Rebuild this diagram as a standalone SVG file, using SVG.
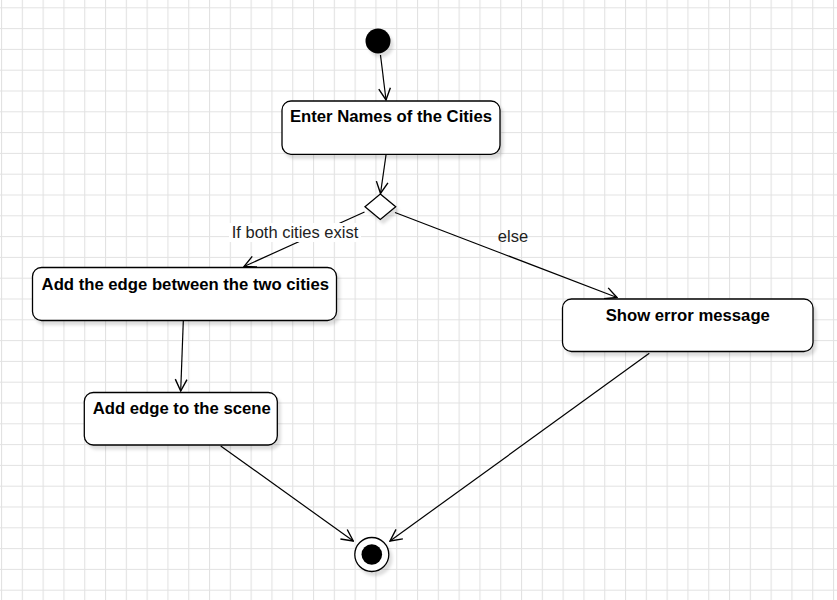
<svg xmlns="http://www.w3.org/2000/svg" width="837" height="600" viewBox="0 0 837 600">
<defs>
<pattern id="grid" x="1" y="7.3" width="20.8" height="20.8" patternUnits="userSpaceOnUse">
<path d="M0.5,0 V20.8 M0,0.5 H20.8" stroke="#e2e2e2" stroke-width="1.2" fill="none"/>
</pattern>
<filter id="sh" x="-20%" y="-20%" width="150%" height="160%">
<feDropShadow dx="3" dy="4" stdDeviation="1.8" flood-color="#000" flood-opacity="0.13"/>
</filter>
<marker id="arr" markerUnits="userSpaceOnUse" markerWidth="14" markerHeight="14" viewBox="0 0 12 12" refX="11" refY="6" orient="auto">
<path d="M1,1 L11,6 L1,11" fill="none" stroke="#000" stroke-width="1.2"/>
</marker>
</defs>
<style>
.box{fill:#fff;stroke:#000;stroke-width:1.3;filter:url(#sh)}
.t{font-family:"Liberation Sans",Arial,sans-serif;font-size:16.7px;font-weight:bold;fill:#000;text-anchor:middle}
.lbl{font-family:"Liberation Sans",Arial,sans-serif;font-size:16.5px;fill:#222;text-anchor:middle}
.e{stroke:#000;stroke-width:1.2;fill:none;marker-end:url(#arr)}
</style>
<rect width="837" height="600" fill="#fff"/>
<rect width="837" height="600" fill="url(#grid)"/>

<g id="edges">
<path class="e" d="M380.5,55 L386,100"/>
<path class="e" d="M386,155 L380.5,193.5"/>
<path class="e" d="M364.5,212 L244,266.5"/>
<path class="e" d="M395,212.5 L617,297.5"/>
<path class="e" d="M183.3,321 L180.7,391"/>
<path class="e" d="M220.7,446 L353.3,541"/>
<path class="e" d="M649.3,353.3 L390,541"/>
<rect x="229" y="223" width="132" height="19" fill="#fff"/>
<text class="lbl" x="295" y="237.7">If both cities exist</text>
<text class="lbl" x="513" y="241.7">else</text>
</g>

<g id="start">
<circle cx="378" cy="41" r="12.5" fill="#000" filter="url(#sh)"/>
</g>

<g id="enter">
<rect class="box" x="282" y="101" width="218" height="53.3" rx="9"/>
<text class="t" x="391" y="121.7">Enter Names of the Cities</text>
</g>

<g id="decision">
<path class="box" d="M380.3,194 L395.7,206.7 L380.3,219.4 L365,206.7 Z"/>
</g>

<g id="addEdge">
<rect class="box" x="32.5" y="267.5" width="304" height="53" rx="9"/>
<text class="t" x="185.3" y="290">Add the edge between the two cities</text>
</g>

<g id="addScene">
<rect class="box" x="84.3" y="392.5" width="193" height="52.5" rx="9"/>
<text class="t" x="181.7" y="414">Add edge to the scene</text>
</g>

<g id="error">
<rect class="box" x="562.5" y="299" width="250.5" height="52.5" rx="9"/>
<text class="t" x="687.8" y="320.7">Show error message</text>
</g>

<g id="end">
<circle cx="371.8" cy="554.5" r="17" fill="#fff" stroke="#000" stroke-width="1.3" filter="url(#sh)"/>
<circle cx="371.8" cy="554.5" r="10.3" fill="#000"/>
</g>
</svg>
